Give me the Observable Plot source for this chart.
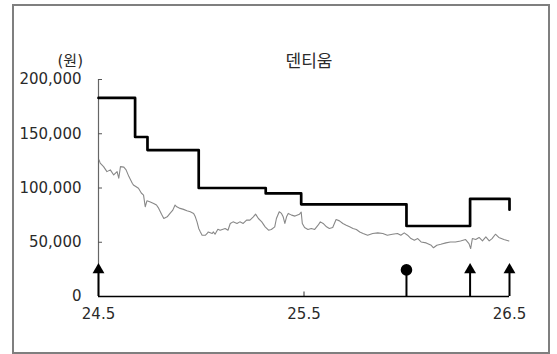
<!DOCTYPE html>
<html>
<head>
<meta charset="utf-8">
<script src="https://cdn.jsdelivr.net/npm/d3@7"></script>
<script src="https://cdn.jsdelivr.net/npm/@observablehq/plot@0.6"></script>
<style>
  body { margin: 0; background: #fff; }
  #chart { position: relative; width: 557px; height: 354px; font-family: "DejaVu Sans", "Noto Sans CJK KR", sans-serif; }
  #chart svg { position: absolute; left: 0; top: 0; }
  #box { position: absolute; left: 12px; top: 4px; width: 534px; height: 346px; border: 2px solid #7f7f7f; pointer-events: none; }
</style>
</head>
<body>
<div id="chart"><div id="box"></div></div>
<script>
// Daily closing price (원)
const priceDates = [
  "2024-05-02","2024-05-04","2024-05-10","2024-05-16","2024-05-22","2024-05-28","2024-06-03","2024-06-06",
  "2024-06-09","2024-06-15","2024-06-19","2024-06-24","2024-06-30","2024-07-02","2024-07-11","2024-07-16",
  "2024-07-20","2024-07-23","2024-07-26","2024-07-31","2024-08-07","2024-08-12","2024-08-16","2024-08-21",
  "2024-08-25","2024-08-31","2024-09-05","2024-09-10","2024-09-14","2024-09-17","2024-09-23","2024-09-29",
  "2024-10-05","2024-10-11","2024-10-17","2024-10-20","2024-10-23","2024-10-26","2024-10-29","2024-11-01",
  "2024-11-07","2024-11-10","2024-11-12","2024-11-19","2024-11-21","2024-11-24","2024-11-29","2024-12-03",
  "2024-12-12","2024-12-17","2024-12-21","2024-12-26","2025-01-02","2025-01-07","2025-01-13","2025-01-19",
  "2025-01-25","2025-01-31","2025-02-04","2025-02-09","2025-02-15","2025-02-21","2025-02-27","2025-03-04",
  "2025-03-10","2025-03-13","2025-03-18","2025-03-22","2025-03-25","2025-03-28","2025-03-31","2025-04-03",
  "2025-04-09","2025-04-15","2025-04-23","2025-04-26","2025-04-28","2025-05-02","2025-05-08","2025-05-14",
  "2025-05-20","2025-05-26","2025-05-30","2025-06-04","2025-06-10","2025-06-15","2025-06-21","2025-06-27",
  "2025-07-03","2025-07-09","2025-07-15","2025-07-21","2025-07-27","2025-08-02","2025-08-08","2025-08-14",
  "2025-08-22","2025-08-31","2025-09-09","2025-09-18","2025-09-26","2025-10-05","2025-10-14","2025-10-20",
  "2025-10-26","2025-11-01","2025-11-07","2025-11-13","2025-11-19","2025-11-25","2025-12-04","2025-12-13",
  "2025-12-17","2025-12-23","2025-12-30","2026-01-08","2026-01-16","2026-01-25","2026-02-03","2026-02-12",
  "2026-02-18","2026-02-21","2026-02-24","2026-03-02","2026-03-08","2026-03-14","2026-03-20","2026-03-26",
  "2026-03-31","2026-04-06","2026-04-12","2026-04-21","2026-04-30"
];
const priceValues = [
  125900,122900,119700,115100,116700,112000,115100,109000,
  119700,119200,116700,110500,104400,102800,99700,95400,
  93500,82700,88200,87300,85800,84300,81200,75900,
  71900,73400,76600,79600,84300,82700,81200,80300,
  79000,78100,76600,73400,68800,62700,59500,56500,
  56500,58100,59500,58100,59500,57400,62000,61100,
  62700,61100,67300,68800,67300,68800,67300,70400,
  70400,73400,75900,71900,68800,64200,61100,61800,
  64200,71900,78100,76600,73400,67300,73400,76600,
  75000,74100,75900,77800,67300,63600,61800,62700,
  61800,65700,68800,67300,64200,62700,63600,71000,
  69700,67300,65700,64200,62700,61800,59500,58100,
  56500,58100,58600,58100,56500,57400,58100,56500,
  58600,56500,53400,51900,53400,50300,49400,47200,
  44900,47200,48100,49400,50300,50300,51200,52500,
  48800,44200,53400,52500,54400,51200,54900,51200,
  53400,57400,54400,52500,51200
];

// Target price history (원)
const targetDates = ["2024-05-01","2024-07-05","2024-07-27","2024-10-26","2025-02-22","2025-04-26","2025-10-30","2026-02-20","2026-05-01"];
const targetValues = [183000,147000,135000,100000,95000,85000,65000,90000,80000];

// Investment rating changes
const ratingDates = ["2024-05-01","2025-10-30","2026-02-20","2026-05-01"];
const ratingKinds = ["Buy","Hold","Buy","Buy"];

// Axis ticks
const yTicks = [0, 50000, 100000, 150000, 200000];
const xTickLabels = ["24.5", "25.5", "26.5"];

const chartTitle = "덴티움";
const unitLabel = "(원)";

const parse = d3.utcParse("%Y-%m-%d");
const price = priceDates.map((d, i) => ({date: parse(d), value: priceValues[i]}));
const target = targetDates.map((d, i) => ({date: parse(d), value: targetValues[i]}));
const ratings = ratingDates.map((d, i) => ({date: parse(d), rating: ratingKinds[i]}));
const xTicks = xTickLabels.map(s => {
  const [yy, m] = s.split(".").map(Number);
  return new Date(Date.UTC(2000 + yy, m - 1, 1));
});
const xDomain = [xTicks[0], xTicks[xTicks.length - 1]];
const markerLevel = 24500;

const chart = Plot.plot({
  width: 557,
  height: 354,
  marginLeft: 98,
  marginRight: 48,
  marginTop: 79,
  marginBottom: 58,
  style: {fontFamily: '"DejaVu Sans", "Noto Sans CJK KR", sans-serif', fontSize: "15px", color: "#2a2a2a", background: "transparent", overflow: "visible"},
  x: {type: "utc", domain: xDomain},
  y: {domain: [0, 200000]},
  marks: [
    Plot.ruleX([xDomain[0]], {y1: 0, y2: 200000, stroke: "#666", strokeWidth: 1.2}),
    Plot.axisY({ticks: yTicks, tickFormat: d3.format(","), tickSize: -4, tickPadding: 21, stroke: "#555", fill: "#2a2a2a", label: null}),
    Plot.axisX({ticks: xTicks, tickFormat: d => `${d.getUTCFullYear() % 100}.${d.getUTCMonth() + 1}`, tickSize: -4.5, tickPadding: 16, stroke: "#333", fill: "#2a2a2a", label: null}),
    Plot.lineY(price, {x: "date", y: "value", stroke: "#888", strokeWidth: 1.1}),
    Plot.lineY(target, {x: "date", y: "value", curve: "step-after", stroke: "#000", strokeWidth: 2.7}),
    Plot.ruleY([0], {stroke: "#000", strokeWidth: 1.3}),
    Plot.ruleX(ratings, {x: "date", y1: 0, y2: markerLevel, stroke: "#000", strokeWidth: 2}),
    Plot.dot(ratings, {filter: d => d.rating === "Buy", x: "date", y: markerLevel, symbol: "triangle", r: 4.4, fill: "#000", stroke: "none"}),
    Plot.dot(ratings, {filter: d => d.rating === "Hold", x: "date", y: markerLevel, symbol: "circle", r: 5.8, fill: "#000", stroke: "none"}),
    Plot.text([chartTitle], {frameAnchor: "top", dx: 5, dy: -25, fontSize: 17, fill: "#2a2a2a", style: "letter-spacing:1.5px"}),
    Plot.text([unitLabel], {frameAnchor: "top-left", dx: -41, dy: -24, fontSize: 15, fill: "#2a2a2a", style: "letter-spacing:1px"})
  ]
});

document.getElementById("chart").prepend(chart);
</script>
</body>
</html>
